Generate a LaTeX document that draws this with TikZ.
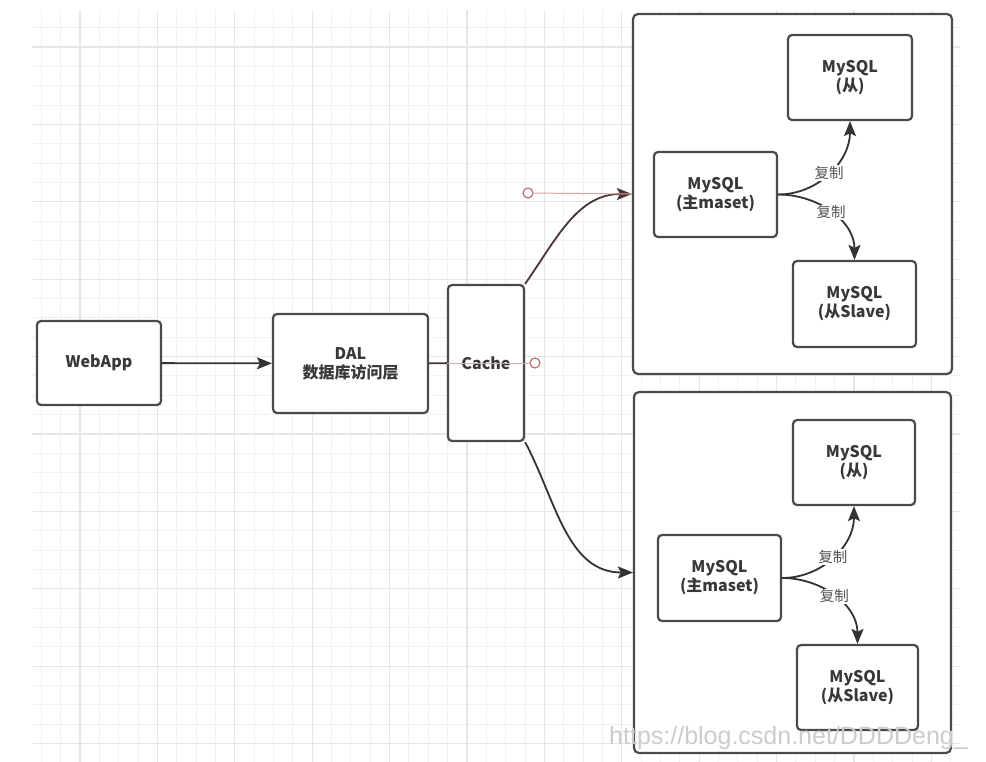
\documentclass[tikz,border=0pt]{standalone}
\usepackage{fontspec}
\setmainfont{Noto Sans CJK SC}
\newfontfamily\wmfont{Liberation Sans}
\usepackage{xcolor}
\usetikzlibrary{arrows.meta}

\definecolor{gridminor}{HTML}{F1F1F1}
\definecolor{gridmajor}{HTML}{E6E6E6}
\definecolor{boxline}{HTML}{4A4A4A}
\definecolor{linkline}{HTML}{333333}
\definecolor{linkred}{HTML}{4A3434}
\definecolor{selred}{HTML}{DDA5A5}
\definecolor{handlered}{HTML}{C07070}

\begin{document}
\begin{tikzpicture}[
        x=1pt, y=-1pt,
        every node/.style={align=center, inner sep=2pt},
        box/.style   ={draw=boxline, line width=2.2pt, fill=white, rounded corners=4pt,
                       font=\bfseries\fontsize{16}{19}\selectfont, text=black!78},
        grp/.style   ={draw=boxline, line width=2.2pt, fill=white, rounded corners=5pt},
        link/.style  ={line width=1.8pt, draw=linkline, -{Stealth[length=15pt,width=12pt,inset=3pt]}},
        lbl/.style   ={fill=white, inner sep=1pt, font=\fontsize{14.5}{17}\selectfont, text=black!68},
        handle/.style={circle, draw=handlered, line width=1.2pt, fill=white, minimum size=10pt, inner sep=0pt},
        sel/.style   ={draw=selred, line width=1pt},
    ]
        \useasboundingbox (0,0) rectangle (986,762);

        % --- Raster ---
        \begin{scope}
            \clip (32,10) rectangle (960,762);
            \foreach \k in {-2,...,45}
                \draw[gridminor, line width=1pt] ({80+19.35*\k},10) -- ({80+19.35*\k},762);
            \foreach \k in {-1,...,36}
                \draw[gridminor, line width=1pt] (32,{47+19.35*\k}) -- (960,{47+19.35*\k});
            \foreach \k in {0,...,11}
                \draw[gridmajor, line width=1.2pt] ({80+77.4*\k},10) -- ({80+77.4*\k},762);
            \foreach \k in {0,...,9}
                \draw[gridmajor, line width=1.2pt] (32,{47+77.4*\k}) -- (960,{47+77.4*\k});
        \end{scope}

        % --- Gruppen ---
        \node[grp, minimum width=319pt, minimum height=360pt] (grpA) at (792.5,194) {};
        \node[grp, minimum width=317pt, minimum height=361pt] (grpB) at (792.5,572.5) {};

        % --- Anwendung ---
        \node[box, minimum width=124pt, minimum height=84pt] (web) at (99,363) {WebApp};
        \node[box, minimum width=155pt, minimum height=99pt] (dal) at (350.5,363.5) {DAL\\数据库访问层};
        \node[box, minimum width=76pt, minimum height=156pt] (cache) at (486,363) {Cache};

        % --- MySQL oben ---
        \node[box, minimum width=123pt, minimum height=85pt] (mA) at (715.5,194.5) {MySQL\\(主maset)};
        \node[box, minimum width=124pt, minimum height=85pt] (sA1) at (850,77.5) {MySQL\\(从)};
        \node[box, minimum width=123pt, minimum height=86pt] (sA2) at (854.5,304) {MySQL\\(从Slave)};

        % --- MySQL unten ---
        \node[box, minimum width=123pt, minimum height=86pt] (mB) at (719.5,578) {MySQL\\(主maset)};
        \node[box, minimum width=122pt, minimum height=85pt] (sB1) at (854,462.5) {MySQL\\(从)};
        \node[box, minimum width=121pt, minimum height=85pt] (sB2) at (857.5,687.5) {MySQL\\(从Slave)};

        % --- Pfeile ---
        \draw[link] (web) -- (dal);
        \draw[line width=1.8pt, draw=linkred] (dal) -- (cache);
        \draw[link, draw=linkred] (cache.north east) to[out=55, in=180] (grpA.west);
        \draw[link] (cache.south east) to[out=-62, in=180] (grpB.west);

        \draw[link] (mA.east) to[out=0, in=-90] node[lbl] {复制} (sA1.south);
        \draw[link] (mA.east) to[out=0, in=90] node[lbl] {复制} (sA2.north);
        \draw[link] (mB.east) to[out=0, in=-90] node[lbl] {复制} (sB1.south);
        \draw[link] (mB.east) to[out=0, in=90] node[lbl] {复制} (sB2.north);

        % --- Auswahl-Markierung ---
        \node[handle] (h1) at (528,193) {};
        \node[handle] (h2) at (535,363) {};
        \draw[sel] (h1) -- (grpA.west);
        \draw[sel] (cache.west) -- (h2);

        % --- Wasserzeichen ---
        \node[anchor=west, inner sep=0pt, text=black!20, font=\wmfont\fontsize{25}{28}\selectfont] (wm) at (609,738) {https://blog.csdn.net/DDDDeng\_};
    \end{tikzpicture}
\end{document}
